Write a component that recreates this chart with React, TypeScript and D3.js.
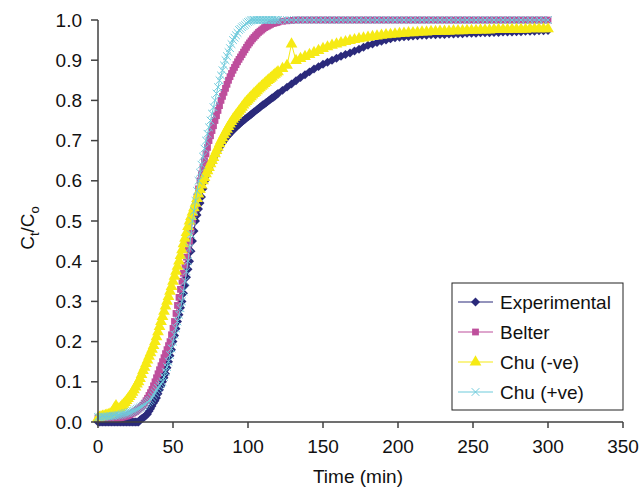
import * as d3 from "d3";

// sample times (min): every minute up to 120, then every 3 min
const times = d3.range(0, 121).concat(d3.range(123, 301, 3));

const experimental = [
  0, 0, 0, 0, 0, 0, 0, 0, 0, 0,
  0, 0, 0, 0, 0, 0, 0, 0, 0, 0,
  0, 0, 0, 0, 0, 0, 0, 0, 0.005, 0.008,
  0.01, 0.013, 0.017, 0.02, 0.027, 0.033, 0.04, 0.047, 0.053, 0.06,
  0.07, 0.08, 0.09, 0.1, 0.11, 0.12, 0.135, 0.15, 0.165, 0.18,
  0.2, 0.215, 0.232, 0.25, 0.267, 0.284, 0.3, 0.32, 0.34, 0.36,
  0.38, 0.4, 0.425, 0.45, 0.475, 0.5, 0.515, 0.53, 0.545, 0.56,
  0.58, 0.598, 0.612, 0.623, 0.632, 0.64, 0.648, 0.656, 0.663, 0.67,
  0.676, 0.683, 0.69, 0.695, 0.7, 0.705, 0.71, 0.714, 0.718, 0.722,
  0.726, 0.73, 0.733, 0.737, 0.74, 0.744, 0.747, 0.75, 0.753, 0.756,
  0.759, 0.762, 0.765, 0.768, 0.771, 0.774, 0.777, 0.78, 0.783, 0.786,
  0.789, 0.791, 0.794, 0.797, 0.8, 0.803, 0.806, 0.808, 0.811, 0.814,
  0.817,
  0.825, 0.833, 0.841, 0.849, 0.857, 0.864, 0.871, 0.878, 0.884, 0.89,
  0.895, 0.9, 0.905, 0.91, 0.914, 0.918, 0.923, 0.927, 0.932, 0.937,
  0.94, 0.944, 0.947, 0.95, 0.953, 0.956, 0.957, 0.958, 0.959, 0.96,
  0.961, 0.962, 0.962, 0.963, 0.963, 0.964, 0.964, 0.965, 0.965, 0.966,
  0.966, 0.967, 0.967, 0.967, 0.968, 0.968, 0.968, 0.969, 0.969, 0.97,
  0.97, 0.97, 0.971, 0.971, 0.972, 0.972, 0.972, 0.973, 0.973, 0.974,
];

const belter = [
  0.01, 0.01, 0.01, 0.01, 0.01, 0.01, 0.01, 0.01, 0.01, 0.01,
  0.01, 0.01, 0.01, 0.01, 0.01, 0.011, 0.012, 0.013, 0.014, 0.015,
  0.016, 0.018, 0.02, 0.022, 0.024, 0.026, 0.029, 0.032, 0.035, 0.038,
  0.042, 0.047, 0.053, 0.059, 0.066, 0.073, 0.081, 0.09, 0.1, 0.11,
  0.12, 0.13, 0.14, 0.15, 0.16, 0.17, 0.18, 0.19, 0.2, 0.217,
  0.233, 0.25, 0.27, 0.29, 0.31, 0.33, 0.35, 0.37, 0.39, 0.41,
  0.43, 0.45, 0.475, 0.5, 0.52, 0.54, 0.56, 0.58, 0.6, 0.617,
  0.633, 0.65, 0.667, 0.683, 0.7, 0.712, 0.725, 0.737, 0.75, 0.762,
  0.775, 0.787, 0.8, 0.81, 0.82, 0.83, 0.84, 0.85, 0.859, 0.867,
  0.875, 0.882, 0.889, 0.896, 0.902, 0.908, 0.914, 0.92, 0.926, 0.932,
  0.938, 0.943, 0.948, 0.953, 0.957, 0.961, 0.965, 0.969, 0.972, 0.975,
  0.978, 0.981, 0.983, 0.985, 0.987, 0.989, 0.991, 0.992, 0.993, 0.994,
  0.995,
  0.997, 0.998, 0.999, 1, 1, 1, 1, 1, 1, 1,
  1, 1, 1, 1, 1, 1, 1, 1, 1, 1,
  1, 1, 1, 1, 1, 1, 1, 1, 1, 1,
  1, 1, 1, 1, 1, 1, 1, 1, 1, 1,
  1, 1, 1, 1, 1, 1, 1, 1, 1, 1,
  1, 1, 1, 1, 1, 1, 1, 1, 1, 1,
];

const chuNeg = [
  0.01, 0.012, 0.013, 0.014, 0.015, 0.016, 0.017, 0.018, 0.02, 0.022,
  0.025, 0.035, 0.04, 0.032, 0.033, 0.036, 0.04, 0.044, 0.048, 0.053,
  0.058, 0.063, 0.068, 0.074, 0.08, 0.087, 0.094, 0.1, 0.108, 0.118,
  0.128, 0.136, 0.145, 0.154, 0.163, 0.172, 0.181, 0.19, 0.2, 0.212,
  0.224, 0.237, 0.25, 0.262, 0.275, 0.288, 0.3, 0.312, 0.325, 0.337,
  0.35, 0.362, 0.375, 0.387, 0.4, 0.414, 0.428, 0.443, 0.457, 0.471,
  0.486, 0.5, 0.511, 0.522, 0.533, 0.544, 0.556, 0.567, 0.578, 0.589,
  0.6, 0.608, 0.617, 0.625, 0.633, 0.642, 0.65, 0.658, 0.667, 0.675,
  0.683, 0.692, 0.7, 0.707, 0.714, 0.721, 0.728, 0.735, 0.741, 0.747,
  0.753, 0.758, 0.763, 0.768, 0.773, 0.778, 0.783, 0.788, 0.793, 0.797,
  0.801, 0.805, 0.809, 0.813, 0.817, 0.82, 0.824, 0.828, 0.831, 0.835,
  0.838, 0.842, 0.845, 0.849, 0.852, 0.855, 0.858, 0.862, 0.865, 0.868,
  0.871,
  0.879, 0.887, 0.94, 0.899, 0.904, 0.909, 0.914, 0.919, 0.924, 0.929,
  0.933, 0.937, 0.94, 0.943, 0.946, 0.949, 0.951, 0.953, 0.955, 0.957,
  0.959, 0.96, 0.962, 0.963, 0.964, 0.965, 0.966, 0.967, 0.968, 0.968,
  0.969, 0.97, 0.97, 0.971, 0.971, 0.972, 0.972, 0.972, 0.973, 0.973,
  0.973, 0.974, 0.974, 0.974, 0.975, 0.975, 0.975, 0.976, 0.976, 0.976,
  0.976, 0.977, 0.977, 0.977, 0.977, 0.978, 0.978, 0.978, 0.978, 0.978,
];

const chuPos = [
  0.012, 0.012, 0.012, 0.013, 0.013, 0.013, 0.014, 0.014, 0.014, 0.015,
  0.015, 0.016, 0.016, 0.017, 0.017, 0.018, 0.019, 0.02, 0.021, 0.022,
  0.023, 0.024, 0.025, 0.027, 0.028, 0.03, 0.032, 0.034, 0.036, 0.038,
  0.04, 0.043, 0.046, 0.049, 0.052, 0.055, 0.061, 0.067, 0.073, 0.079,
  0.085, 0.09, 0.095, 0.1, 0.112, 0.125, 0.137, 0.15, 0.167, 0.183,
  0.2, 0.217, 0.233, 0.25, 0.267, 0.283, 0.3, 0.325, 0.35, 0.375,
  0.4, 0.433, 0.467, 0.5, 0.525, 0.55, 0.575, 0.6, 0.62, 0.64,
  0.66, 0.68, 0.7, 0.717, 0.733, 0.75, 0.767, 0.783, 0.8, 0.817,
  0.833, 0.85, 0.862, 0.875, 0.887, 0.9, 0.91, 0.92, 0.93, 0.94,
  0.95, 0.956, 0.962, 0.968, 0.975, 0.978, 0.982, 0.985, 0.988, 0.992,
  0.995, 0.997, 0.999, 1, 1, 1, 1, 1, 1, 1,
  1, 1, 1, 1, 1, 1, 1, 1, 1, 1,
  1,
  1, 1, 1, 1, 1, 1, 1, 1, 1, 1,
  1, 1, 1, 1, 1, 1, 1, 1, 1, 1,
  1, 1, 1, 1, 1, 1, 1, 1, 1, 1,
  1, 1, 1, 1, 1, 1, 1, 1, 1, 1,
  1, 1, 1, 1, 1, 1, 1, 1, 1, 1,
  1, 1, 1, 1, 1, 1, 1, 1, 1, 1,
];

const seriesNames = ["Experimental", "Belter", "Chu (-ve)", "Chu (+ve)"];
const seriesValues = [experimental, belter, chuNeg, chuPos];
const seriesColors = ["#2b2a7b", "#be4f9c", "#f6ea14", "#6fcbdc"];

const xTicks = [0, 50, 100, 150, 200, 250, 300, 350];
const yTicks = [0, 0.1, 0.2, 0.3, 0.4, 0.5, 0.6, 0.7, 0.8, 0.9, 1.0];

const W = 642;
const H = 487;
const FONT = "'Liberation Sans', Arial, Helvetica, sans-serif";

const x = d3.scaleLinear().domain([0, 350]).range([98, 623]);
const y = d3.scaleLinear().domain([0, 1]).range([422, 20]);

// marker shapes per series (diamond = rotated square)
const markerPath = [
  d3.symbol().type(d3.symbolSquare).size(40)(),
  d3.symbol().type(d3.symbolSquare).size(46)(),
  d3.symbol().type(d3.symbolTriangle).size(60)(),
  d3.symbol().type(d3.symbolTimes).size(40)(),
];
const markerRotate = [45, 0, 0, 0];

function Marker({ i, cx, cy }: { i: number; cx: number; cy: number }) {
  const stroked = i === 3;
  return (
    <path
      d={markerPath[i] || ""}
      transform={`translate(${cx},${cy}) rotate(${markerRotate[i]})`}
      fill={stroked ? "none" : seriesColors[i]}
      stroke={stroked ? seriesColors[i] : "none"}
      strokeWidth={stroked ? 1 : 0}
    />
  );
}

export default function App() {
  const line = d3
    .line<number>()
    .x((_, j) => x(times[j]))
    .y((d) => y(d));

  const legendY = [302, 332, 362, 392];

  return (
    <svg
      width={W}
      height={H}
      style={{ position: "absolute", left: 0, top: 0, background: "#fff" }}
      fontFamily={FONT}
    >
      {seriesValues.map((vals, i) => {
        const n = Math.min(vals.length, times.length);
        const v = vals.slice(0, n);
        return (
          <g key={seriesNames[i]}>
            <path d={line(v) || ""} fill="none" stroke={seriesColors[i]} strokeWidth={1} />
            {v.map((d, j) => (
              <Marker key={j} i={i} cx={x(times[j])} cy={y(d)} />
            ))}
          </g>
        );
      })}

      {/* y axis */}
      <line x1={98} x2={98} y1={y(1)} y2={y(0)} stroke="#404040" strokeWidth={1.5} />
      {yTicks.map((t) => (
        <g key={t}>
          <line x1={91} x2={98} y1={y(t)} y2={y(t)} stroke="#404040" strokeWidth={1.5} />
          <text x={82} y={y(t) + 6.5} textAnchor="end" fontSize={19} fill="#111">
            {t.toFixed(1)}
          </text>
        </g>
      ))}

      {/* x axis */}
      <line x1={x(0)} x2={x(350)} y1={422} y2={422} stroke="#404040" strokeWidth={1.5} />
      {xTicks.map((t) => (
        <g key={t}>
          <line x1={x(t)} x2={x(t)} y1={422} y2={428} stroke="#404040" strokeWidth={1.5} />
          <text x={x(t)} y={453} textAnchor="middle" fontSize={19} fill="#111">
            {t}
          </text>
        </g>
      ))}

      <text x={358} y={483} textAnchor="middle" fontSize={19} fill="#111">
        Time (min)
      </text>
      <text transform="translate(34,228) rotate(-90)" textAnchor="middle" fontSize={19} fill="#111">
        C
        <tspan fontSize={13} dy={5}>t</tspan>
        <tspan dy={-5}>/C</tspan>
        <tspan fontSize={13} dy={5}>o</tspan>
      </text>

      {/* legend */}
      <rect x={452} y={283} width={171} height={127} fill="#fff" stroke="#222" strokeWidth={1} />
      {seriesNames.map((name, i) => (
        <g key={name}>
          <line x1={458} x2={493} y1={legendY[i]} y2={legendY[i]} stroke={seriesColors[i]} strokeWidth={1.2} />
          <Marker i={i} cx={475.5} cy={legendY[i]} />
          <text x={500} y={legendY[i] + 6.5} fontSize={19} fill="#111">
            {name}
          </text>
        </g>
      ))}
    </svg>
  );
}
